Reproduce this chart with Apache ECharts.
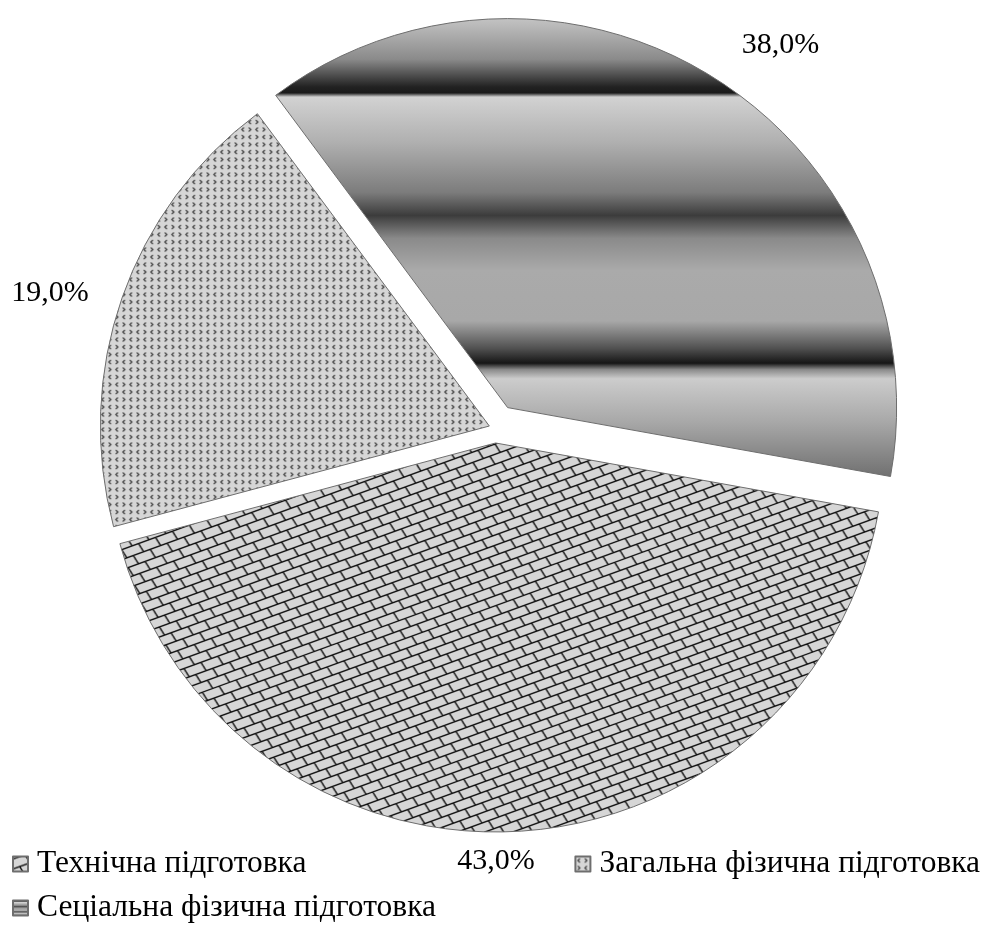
<!DOCTYPE html>
<html lang="uk">

<head>
    <meta charset="UTF-8">
    <title>Pie</title>
    <script src="https://cdn.jsdelivr.net/npm/echarts@6/dist/echarts.min.js"></script>
    <style>
        body { margin: 0; background: #fff; }
    </style>
</head>

<body>
    <div id="main" style="width: 992px;height:947px;"></div>
    <script>
        // дані
        const categories = ['Технічна підготовка', 'Загальна фізична підготовка', 'Сеціальна фізична підготовка'];
        const shares = [43.0, 19.0, 38.0];

        // оформлення
        const fontFamily = '"Liberation Serif", "Times New Roman", serif';
        const explode = [15, 6, 24];
        const labelLen = [[30, -61], [14, 15], [38, 4]];

        // цегла
        function brickPattern() {
            const c = document.createElement('canvas');
            c.width = 1000; c.height = 1000;
            const ctx = c.getContext('2d');
            ctx.fillStyle = '#d6d6d6';
            ctx.fillRect(0, 0, 1000, 1000);
            ctx.translate(500, 500);
            ctx.rotate(-20 * Math.PI / 180);
            ctx.strokeStyle = '#111';
            ctx.lineWidth = 1.4;
            const h = 9.5, w = 18;
            let k = 0;
            for (let y = -800; y < 800; y += h, k++) {
                ctx.beginPath();
                ctx.moveTo(-800, y); ctx.lineTo(800, y);
                const off = (k % 2) * w / 2;
                for (let x = -800 + off; x < 800; x += w) {
                    ctx.moveTo(x, y); ctx.lineTo(x + 2, y + h);
                }
                ctx.stroke();
            }
            return { image: c, repeat: 'repeat' };
        }

        // дрібні значки < >
        function dotPattern() {
            const c = document.createElement('canvas');
            c.width = 14; c.height = 15;
            const ctx = c.getContext('2d');
            ctx.fillStyle = '#d6d6d6';
            ctx.fillRect(0, 0, 14, 15);
            ctx.strokeStyle = '#333';
            ctx.lineWidth = 1.1;
            function chev(x, y, dir) {
                ctx.beginPath();
                ctx.moveTo(x + dir, y - 2);
                ctx.lineTo(x - dir, y);
                ctx.lineTo(x + dir, y + 2);
                ctx.stroke();
            }
            chev(3.5, 4, 1);
            chev(10.5, 4, -1);
            chev(3.5, 11.5, -1);
            chev(10.5, 11.5, 1);
            return { image: c, repeat: 'repeat' };
        }

        const stripeGradient = new echarts.graphic.LinearGradient(0, 0, 0, 1, [
            { offset: 0, color: '#c4c4c4' },
            { offset: 0.09, color: '#8a8a8a' },
            { offset: 0.15, color: '#222' },
            { offset: 0.163, color: '#1a1a1a' },
            { offset: 0.172, color: '#d2d2d2' },
            { offset: 0.27, color: '#b0b0b0' },
            { offset: 0.38, color: '#7c7c7c' },
            { offset: 0.43, color: '#3c3c3c' },
            { offset: 0.48, color: '#8a8a8a' },
            { offset: 0.55, color: '#aaaaaa' },
            { offset: 0.66, color: '#a8a8a8' },
            { offset: 0.72, color: '#505050' },
            { offset: 0.752, color: '#161616' },
            { offset: 0.766, color: '#8a8a8a' },
            { offset: 0.786, color: '#cccccc' },
            { offset: 0.88, color: '#a8a8a8' },
            { offset: 1, color: '#707070' }
        ]);

        const fills = [brickPattern(), dotPattern(), stripeGradient];

        const chart = echarts.init(document.getElementById('main'));

        function pieFor(i) {
            return {
                type: 'pie',
                center: [495, 428],
                radius: 389,
                startAngle: -10.2,
                clockwise: true,
                selectedMode: 'single',
                selectedOffset: explode[i],
                avoidLabelOverlap: false,
                emphasis: { disabled: true },
                data: categories.map((name, j) => {
                    if (j !== i) {
                        return {
                            name: '',
                            value: shares[j],
                            itemStyle: { color: 'transparent', borderWidth: 0 },
                            label: { show: false },
                            labelLine: { show: false }
                        };
                    }
                    return {
                        name: name,
                        value: shares[j],
                        selected: true,
                        itemStyle: { color: fills[i], borderColor: '#6e6e6e', borderWidth: 1 },
                        label: {
                            show: true,
                            position: 'outside',
                            color: '#000',
                            fontFamily: fontFamily,
                            fontSize: 30,
                            formatter: (p) => p.value.toFixed(1).replace('.', ',') + '%'
                        },
                        labelLine: { show: false, length: labelLen[i][0], length2: labelLen[i][1] }
                    };
                })
            };
        }

        const legendText = { fontFamily: fontFamily, fontSize: 31.5, color: '#000', padding: [0, 0, 0, 4] };

        let option = {
            animation: false,
            backgroundColor: '#fff',
            legend: [
                {
                    data: [categories[0], categories[1]],
                    left: 12,
                    top: 848,
                    padding: 0,
                    itemGap: 268,
                    itemWidth: 15,
                    itemHeight: 15,
                    icon: 'rect',
                    selectedMode: false,
                    textStyle: legendText
                },
                {
                    data: [categories[2]],
                    left: 12,
                    top: 892,
                    padding: 0,
                    itemWidth: 15,
                    itemHeight: 15,
                    icon: 'rect',
                    selectedMode: false,
                    textStyle: legendText
                }
            ],
            series: [pieFor(0), pieFor(1), pieFor(2)]
        };

        chart.setOption(option);
    </script>
</body>

</html>
